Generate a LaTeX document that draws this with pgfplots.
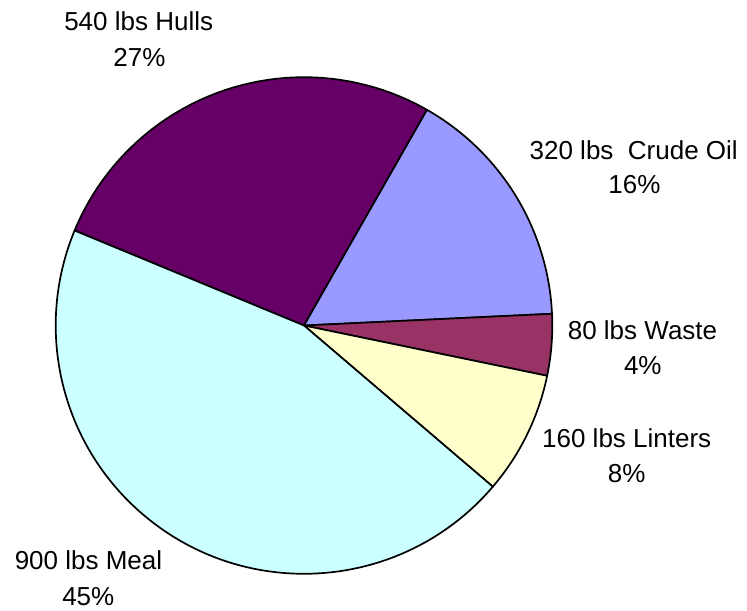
\documentclass[border=0pt]{standalone}
\usepackage{pgfplots}
\usepackage{pgfplotstable}
\pgfplotsset{compat=1.18}
\usepackage{fontspec}
\setmainfont{Liberation Sans}

\definecolor{hullc}{HTML}{660066}
\definecolor{crudec}{HTML}{9999FF}
\definecolor{wastec}{HTML}{993366}
\definecolor{lintc}{HTML}{FFFFCC}
\definecolor{mealc}{HTML}{CCFFFF}

\pgfplotstableread{
name lbs
Hulls 540
CrudeOil 320
Waste 80
Linters 160
Meal 900
}\pietable

\begin{document}%
\begin{tikzpicture}
\pgfplotstablegetelem{0}{lbs}\of\pietable \let\vA\pgfplotsretval
\pgfplotstablegetelem{1}{lbs}\of\pietable \let\vB\pgfplotsretval
\pgfplotstablegetelem{2}{lbs}\of\pietable \let\vC\pgfplotsretval
\pgfplotstablegetelem{3}{lbs}\of\pietable \let\vD\pgfplotsretval
\pgfplotstablegetelem{4}{lbs}\of\pietable \let\vE\pgfplotsretval
\pgfmathsetmacro\total{\vA+\vB+\vC+\vD+\vE}
\pgfmathsetmacro\aZero{157.5}
\pgfmathsetmacro\aOne{\aZero-\vA/\total*360}
\pgfmathsetmacro\aTwo{\aOne-\vB/\total*360}
\pgfmathsetmacro\aThree{\aTwo-\vC/\total*360}
\pgfmathsetmacro\aFour{\aThree-\vD/\total*360}
\pgfmathsetmacro\aFive{\aFour-\vE/\total*360}
\begin{axis}[
  width=747bp, height=611bp, scale only axis,
  xmin=0, xmax=747, ymin=0, ymax=611,
  hide axis, clip=false,
]
\addplot[draw=none, mark=none, forget plot] coordinates {(0,0) (747,611)};
\tikzset{slice/.style={draw=black, line width=1.7bp, line join=round}}
\filldraw[slice, fill=hullc] (axis cs:304,285.5) -- ++(\aZero:248.3bp) arc[start angle=\aZero, end angle=\aOne, radius=248.3bp] -- cycle;
\filldraw[slice, fill=crudec] (axis cs:304,285.5) -- ++(\aOne:248.3bp) arc[start angle=\aOne, end angle=\aTwo, radius=248.3bp] -- cycle;
\filldraw[slice, fill=wastec] (axis cs:304,285.5) -- ++(\aTwo:248.3bp) arc[start angle=\aTwo, end angle=\aThree, radius=248.3bp] -- cycle;
\filldraw[slice, fill=lintc] (axis cs:304,285.5) -- ++(\aThree:248.3bp) arc[start angle=\aThree, end angle=\aFour, radius=248.3bp] -- cycle;
\filldraw[slice, fill=mealc] (axis cs:304,285.5) -- ++(\aFour:248.3bp) arc[start angle=\aFour, end angle=\aFive, radius=248.3bp] -- cycle;
\tikzset{lab/.style={anchor=base, inner sep=0pt, font=\fontsize{26bp}{30bp}\selectfont}}
\node[lab] at (axis cs:138.7,580) {540 lbs Hulls};
\node[lab] at (axis cs:139.5,544.5) {27\%};
\node[lab] at (axis cs:633.7,451.7) {320 lbs\ \ Crude Oil};
\node[lab] at (axis cs:634.5,417) {16\%};
\node[lab] at (axis cs:642.5,271) {80 lbs Waste};
\node[lab] at (axis cs:642.8,236) {4\%};
\node[lab] at (axis cs:626.7,163.3) {160 lbs Linters};
\node[lab] at (axis cs:626.7,128.3) {8\%};
\node[lab] at (axis cs:88.5,41.7) {900 lbs Meal};
\node[lab] at (axis cs:88.3,6) {45\%};
\end{axis}
\end{tikzpicture}%
\end{document}
